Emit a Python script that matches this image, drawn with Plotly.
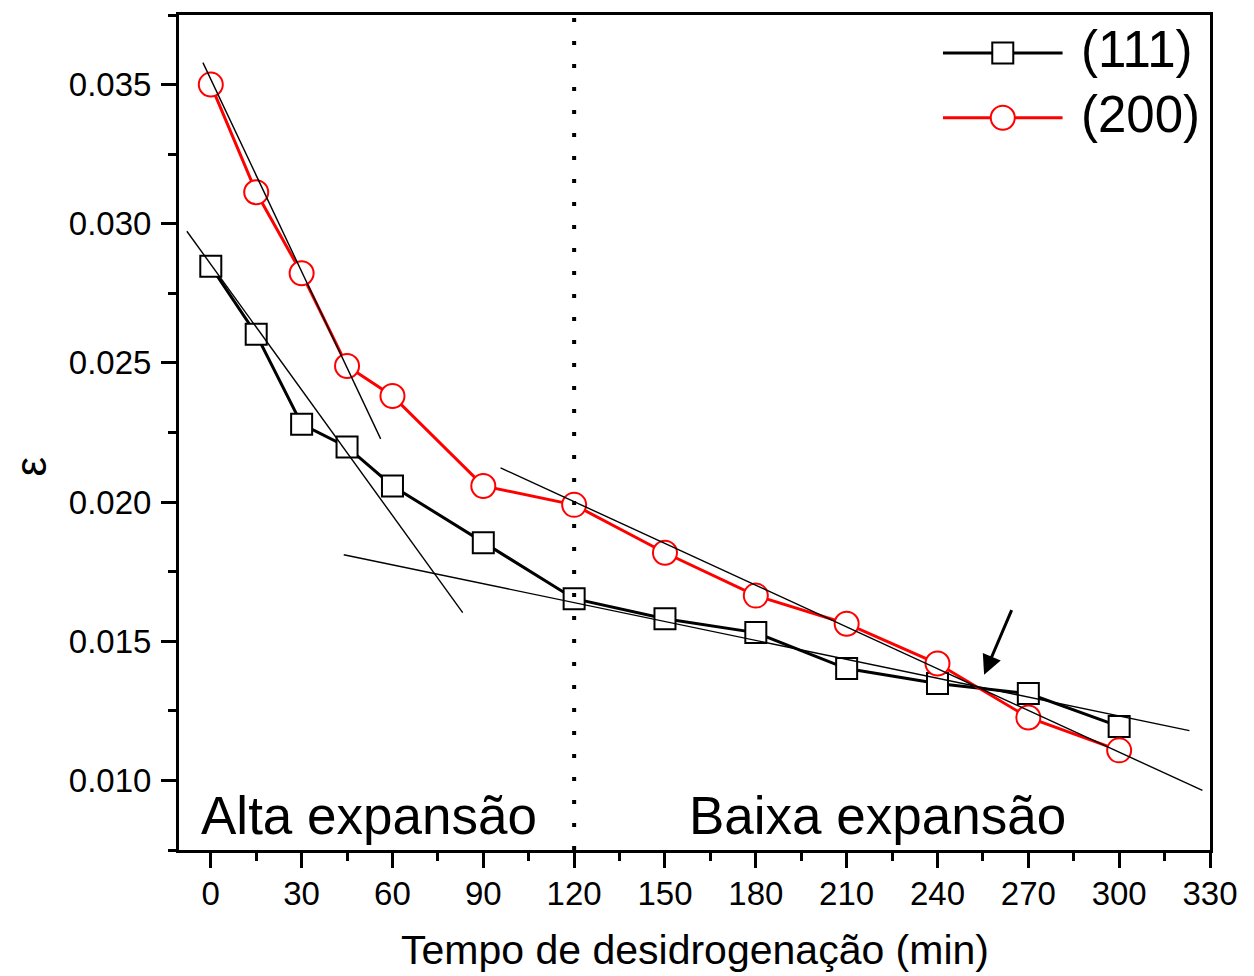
import plotly.graph_objects as go

# ---- data ----
time_min = [0, 15, 30, 45, 60, 90, 120, 150, 180, 210, 240, 270, 300]
strain_111 = [0.02847, 0.02603, 0.02280, 0.02198, 0.02058, 0.01854, 0.01653,
              0.01581, 0.01531, 0.01402, 0.01348, 0.01312, 0.01194]
strain_200 = [0.03500, 0.03113, 0.02822, 0.02489, 0.02381, 0.02058, 0.01990,
              0.01818, 0.01664, 0.01563, 0.01420, 0.01226, 0.01108]

# tangent (fit) lines: endpoints in data coordinates
tan1_x = [-2.6, 56.1];  tan1_y = [0.03579, 0.02227]   # (200) early
tan2_x = [-7.9, 83.2];  tan2_y = [0.02973, 0.01603]   # (111) early
tan3_x = [43.9, 323.2]; tan3_y = [0.01811, 0.01179]   # (111) late
tan4_x = [95.7, 327.5]; tan4_y = [0.02123, 0.00964]   # (200) late

boundary_x = 120
arrow_tail = (264.7, 0.01617)
arrow_head = (255.4, 0.01380)

x_ticks = list(range(0, 331, 30))
y_ticks = [0.010, 0.015, 0.020, 0.025, 0.030, 0.035]

FONT = "Liberation Sans, Arial, sans-serif"

fig = go.Figure()

fig.add_trace(go.Scatter(
    x=time_min, y=strain_111, mode="lines+markers", name="(111)",
    line=dict(color="black", width=3),
    marker=dict(symbol="square", size=21, color="white",
                line=dict(color="black", width=2)),
    showlegend=False))
fig.add_trace(go.Scatter(
    x=time_min, y=strain_200, mode="lines+markers", name="(200)",
    line=dict(color="#ff0000", width=3),
    marker=dict(symbol="circle", size=24, color="white",
                line=dict(color="#ff0000", width=2)),
    showlegend=False))

for tx, ty in [(tan1_x, tan1_y), (tan2_x, tan2_y), (tan3_x, tan3_y), (tan4_x, tan4_y)]:
    fig.add_trace(go.Scatter(x=tx, y=ty, mode="lines",
                             line=dict(color="black", width=1.4),
                             showlegend=False, hoverinfo="skip"))

# ---- manual legend on an overlay [0,1] axis pair ----
leg_x_line = [0.741, 0.857]
leg_x_mark = 0.799
leg_x_text = 0.873
leg_y = [0.9545, 0.877]
legend_items = [("(111)", "black", "square", 21), ("(200)", "#ff0000", "circle", 24)]
for (label, col, sym, sz), ly in zip(legend_items, leg_y):
    fig.add_trace(go.Scatter(x=leg_x_line, y=[ly, ly], mode="lines",
                             line=dict(color=col, width=3),
                             xaxis="x2", yaxis="y2", showlegend=False, hoverinfo="skip"))
    fig.add_trace(go.Scatter(x=[leg_x_mark], y=[ly], mode="markers",
                             marker=dict(symbol=sym, size=sz, color="white",
                                         line=dict(color=col, width=2)),
                             xaxis="x2", yaxis="y2", showlegend=False, hoverinfo="skip"))

annotations = []
for (label, col, sym, sz), ly in zip(legend_items, leg_y):
    annotations.append(dict(text=label, xref="paper", yref="paper", x=leg_x_text, y=ly + 0.004,
                            xanchor="left", yanchor="middle", showarrow=False,
                            font=dict(family=FONT, size=51, color="black")))

annotations += [
    dict(text="Alta expansão", xref="paper", yref="paper", x=0.0195, y=0.041,
         xanchor="left", yanchor="middle", showarrow=False,
         font=dict(family=FONT, size=53, color="black")),
    dict(text="Baixa expansão", xref="paper", yref="paper", x=0.4925, y=0.041,
         xanchor="left", yanchor="middle", showarrow=False,
         font=dict(family=FONT, size=53, color="black")),
    dict(text="Tempo de desidrogenação (min)", xref="paper", yref="paper", x=0.5, y=-0.1195,
         xanchor="center", yanchor="middle", showarrow=False,
         font=dict(family=FONT, size=41, color="black")),
    dict(text="ε", xref="paper", yref="paper", x=-0.1445, y=0.4594, textangle=-90,
         xanchor="center", yanchor="middle", showarrow=False,
         font=dict(family=FONT, size=44, color="black")),
    dict(x=arrow_head[0], y=arrow_head[1], ax=arrow_tail[0], ay=arrow_tail[1],
         xref="x", yref="y", axref="x", ayref="y", text="", showarrow=True,
         arrowhead=2, arrowsize=1.3, arrowwidth=3, arrowcolor="black"),
]

axis_common = dict(showgrid=False, zeroline=False, showline=True, linecolor="black",
                   linewidth=3, mirror=True, ticks="outside", ticklen=15, tickwidth=2.5,
                   tickcolor="black", tickfont=dict(family=FONT, size=33, color="black"))

fig.update_layout(
    width=1254, height=976,
    margin=dict(l=179, r=44, t=12, b=126),
    paper_bgcolor="white", plot_bgcolor="white",
    showlegend=False,
    xaxis=dict(range=[-10.5, 330], tickvals=x_ticks, ticklabelstandoff=-3,
               minor=dict(ticks="outside", ticklen=8, tickwidth=2.5, tickcolor="black", dtick=15, tick0=0),
               **axis_common),
    yaxis=dict(range=[0.0075, 0.0375], tickvals=y_ticks, tickformat=".3f", ticklabelstandoff=3,
               minor=dict(ticks="outside", ticklen=8, tickwidth=2.5, tickcolor="black", dtick=0.0025, tick0=0.0075),
               **axis_common),
    xaxis2=dict(overlaying="x", range=[0, 1], visible=False, fixedrange=True),
    yaxis2=dict(overlaying="y", range=[0, 1], visible=False, fixedrange=True),
    shapes=[dict(type="line", xref="x", yref="y domain", x0=boundary_x, x1=boundary_x,
                 y0=0, y1=1, line=dict(color="black", width=4, dash="4px,19px"))],
    annotations=annotations,
)

fig.write_html("out.html")
